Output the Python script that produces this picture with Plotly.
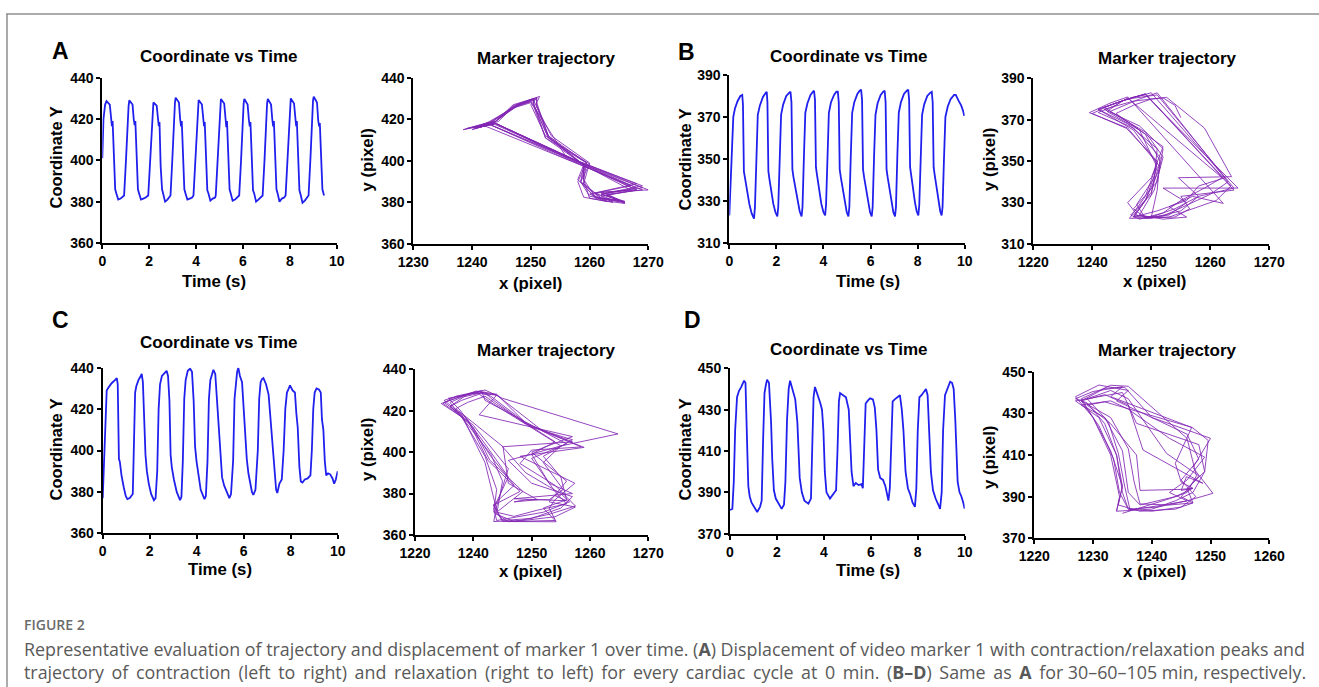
import plotly.graph_objects as go

W, H = 1319, 687

# ---------------- DATA ----------------
# Panel A: Coordinate Y vs time (0 min)
a_time = [0.00, 0.05, 0.12, 0.18, 0.32, 0.37, 0.41, 0.44, 0.49, 0.55, 0.60, 0.68, 0.78, 0.88,
          0.93, 1.01, 1.08, 1.12, 1.15, 1.29, 1.34, 1.38, 1.41, 1.46, 1.52, 1.57, 1.65, 1.75, 1.85,
          1.96, 2.04, 2.11, 2.15, 2.18, 2.32, 2.37, 2.41, 2.44, 2.49, 2.55, 2.60, 2.68, 2.78, 2.88,
          2.91, 2.99, 3.06, 3.10, 3.13, 3.27, 3.32, 3.36, 3.39, 3.44, 3.50, 3.55, 3.63, 3.73, 3.83,
          3.89, 3.97, 4.04, 4.08, 4.11, 4.25, 4.30, 4.34, 4.37, 4.42, 4.48, 4.53, 4.61, 4.71, 4.81,
          4.84, 4.92, 4.99, 5.03, 5.06, 5.20, 5.25, 5.29, 5.32, 5.37, 5.43, 5.48, 5.56, 5.66, 5.76,
          5.84, 5.92, 5.99, 6.03, 6.06, 6.20, 6.25, 6.29, 6.32, 6.37, 6.43, 6.48, 6.56, 6.66, 6.76,
          6.84, 6.92, 6.99, 7.03, 7.06, 7.20, 7.25, 7.29, 7.32, 7.37, 7.43, 7.48, 7.56, 7.66, 7.76,
          7.82, 7.90, 7.97, 8.01, 8.04, 8.18, 8.23, 8.27, 8.30, 8.35, 8.41, 8.46, 8.54, 8.64, 8.74,
          8.80, 8.88, 8.95, 8.99, 9.02, 9.16, 9.21, 9.25, 9.28, 9.33, 9.39, 9.46]
a_coord = [401, 420, 427, 428.7, 427, 420, 416.5, 419, 398, 386, 384, 381, 381.5, 382.5,
           383, 400, 420, 426, 429, 427, 420, 417, 419, 398, 386, 384, 381, 381.5, 382,
           383, 400, 419, 425.5, 428, 426.5, 419, 416.5, 418.5, 397, 386, 383.5, 380, 381, 382.5,
           383, 401, 421, 428, 430.3, 428, 420, 416.5, 419, 398, 386, 384, 381, 381.5, 382,
           383, 400, 420, 427, 429.2, 427, 420, 416.5, 418.5, 398, 385.5, 384, 380.5, 381.5, 382,
           383, 400, 421, 427.5, 429.7, 427.5, 420, 416, 419, 398, 386, 384, 380.5, 381, 382,
           383, 400, 421, 427.5, 429.7, 427, 420, 416.5, 418.5, 398, 385.5, 384, 380, 381, 382,
           383, 400, 421, 427.5, 429.7, 427, 420, 416.5, 419, 398, 386, 384, 380, 381.5, 382,
           383, 400, 421, 428, 430, 427.5, 420, 416.5, 419, 398, 385.5, 383.5, 379.5, 380.5, 382,
           383, 401, 422, 429, 430.8, 428, 419.5, 416.5, 418, 398, 386, 383]

# Panel A: marker trajectory (x, y in pixels)
a_traj_x = [1256, 1252,
            1250, 1247, 1244, 1241, 1244, 1257, 1268, 1262, 1265, 1261, 1259, 1259.5, 1253, 1251,
            1250.5, 1247.5, 1243.5, 1239, 1243, 1256, 1267, 1261, 1264, 1260, 1258.5, 1259, 1252.5, 1250.5,
            1250, 1246.5, 1243, 1238.5, 1242, 1255, 1269, 1263, 1266, 1262, 1259, 1260, 1253.5, 1251,
            1251, 1248, 1244, 1240, 1243.5, 1257, 1270, 1262, 1265, 1261, 1258, 1259, 1253, 1250.5,
            1250.5, 1247, 1244.5, 1241, 1244, 1258, 1268, 1260, 1263, 1259, 1258, 1259.5, 1252.5, 1250,
            1251, 1248, 1243, 1240, 1243, 1256, 1269, 1262, 1266, 1262, 1258.5, 1260, 1253, 1250.5,
            1250.5, 1247, 1244, 1241, 1244, 1257, 1267, 1261, 1264, 1260, 1259, 1259, 1253, 1251,
            1251, 1247.5, 1243.5, 1240.5, 1243, 1257, 1269, 1262, 1266, 1261, 1258.5, 1259.5, 1252.5, 1250.5,
            1250.5, 1247, 1244, 1241, 1244, 1256, 1268, 1263, 1266, 1262, 1259, 1259, 1253, 1251,
            1251.5, 1248, 1244, 1241, 1244, 1257, 1268, 1262]
a_traj_y = [402, 420,
            428.5, 426, 419, 416, 418, 401, 387, 384, 381, 382.5, 391, 399, 412, 426,
            429, 426, 419, 415.5, 417.5, 401, 388, 384.5, 381, 383, 390, 398, 411, 426,
            428, 425, 418.5, 415, 417, 402, 386, 384, 380, 382, 389, 399, 412, 426,
            430.5, 427, 419, 416, 418, 401, 386, 385, 381, 382.5, 391, 398, 411, 427,
            429.5, 426, 419, 416, 418, 400, 389, 384, 380.5, 382.5, 390, 399, 412, 427,
            430, 427, 419, 415, 417.5, 402, 388, 384, 380.5, 382, 390, 398.5, 411, 427,
            430, 426.5, 419, 416, 418, 401, 386, 384.5, 380, 382, 391, 398, 412, 427,
            430, 427, 419, 415.5, 417.5, 400.5, 387, 384, 380, 382, 390, 399, 411, 427.5,
            430, 427, 419, 416, 418, 401.5, 386, 383.5, 379.5, 381, 389, 398, 411.5, 428,
            431, 427.5, 419, 416, 418, 401, 386, 383]

# Panel B: Coordinate Y vs time (30 min)
b_time = [0.00, 0.04, 0.10, 0.17, 0.24, 0.35, 0.47, 0.55, 0.58, 0.62, 0.68, 0.76, 0.85, 0.95,
          1.05, 1.09, 1.15, 1.21, 1.30, 1.43, 1.55, 1.59, 1.62, 1.66, 1.71, 1.79, 1.87, 1.96,
          2.04, 2.08, 2.14, 2.20, 2.29, 2.42, 2.54, 2.60, 2.64, 2.68, 2.73, 2.82, 2.91, 2.99,
          3.07, 3.11, 3.17, 3.23, 3.32, 3.45, 3.55, 3.60, 3.64, 3.68, 3.73, 3.82, 3.91, 4.00,
          4.07, 4.11, 4.17, 4.23, 4.32, 4.45, 4.55, 4.61, 4.65, 4.69, 4.74, 4.82, 4.91, 4.99,
          5.06, 5.10, 5.16, 5.22, 5.31, 5.44, 5.54, 5.60, 5.64, 5.68, 5.73, 5.82, 5.90, 5.98,
          6.05, 6.09, 6.15, 6.21, 6.30, 6.43, 6.54, 6.60, 6.64, 6.68, 6.73, 6.81, 6.90, 6.97,
          7.04, 7.08, 7.14, 7.20, 7.29, 7.42, 7.54, 7.60, 7.64, 7.68, 7.73, 7.81, 7.89, 7.96,
          8.03, 8.07, 8.13, 8.19, 8.28, 8.41, 8.53, 8.60, 8.64, 8.68, 8.73, 8.81, 8.89, 8.96,
          9.02, 9.06, 9.12, 9.18, 9.28, 9.40, 9.55, 9.62, 9.75, 9.85, 9.93, 9.98]
b_coord = [323, 333, 355, 370, 374, 377.5, 380, 380.5, 376, 344, 340, 334.5, 328.5, 324,
           321.5, 327, 350, 371, 375.5, 379.5, 381.5, 382, 377, 344, 340, 334, 328.5, 324.5,
           322.5, 327, 351, 371, 376, 380, 381.5, 382, 377, 345, 341, 335, 329, 325,
           322.5, 327, 351, 372, 376.5, 380.5, 382, 382.5, 378, 346, 342, 335, 328.5, 324.5,
           323, 328, 352, 372, 377, 380.5, 382, 382, 377, 345, 341, 335, 329, 324.5,
           322.5, 327, 351, 372, 377, 381, 382.5, 383, 378, 345, 341, 335, 328.5, 324.5,
           322.5, 327, 351, 371, 376.5, 380.5, 382, 382.5, 377, 345, 341, 335, 329, 324.5,
           322.5, 327, 352, 372, 377, 381, 382.5, 383, 378, 346, 342, 335, 329, 325,
           323, 328, 352, 371, 376, 380, 381.5, 382, 377, 346, 342, 335.5, 329, 325,
           323, 327, 350, 370, 375, 378.5, 380.5, 380.5, 377.5, 375.5, 373, 370.5]

# Panel B: marker trajectory
b_traj_x = [1250, 1251, 1251.5, 1247, 1241, 1244, 1246,
            1262, 1259, 1255, 1252, 1248, 1246.5, 1250, 1251, 1245.8, 1240, 1243, 1247, 1249,
            1264.7, 1252, 1256, 1253, 1249, 1247, 1251, 1252, 1248, 1242, 1247, 1252.6,
            1259, 1263.6, 1254.6, 1258, 1255, 1250, 1246.3, 1249, 1251, 1246, 1239.5, 1243, 1246,
            1262.2, 1257, 1253, 1256, 1252, 1248, 1250.5, 1252, 1249, 1243, 1248, 1251,
            1263, 1260, 1257, 1252, 1247, 1249, 1251.5, 1247, 1241, 1245, 1249,
            1264, 1255, 1256.5, 1254, 1248, 1246, 1250, 1252, 1246.5, 1242, 1246, 1250,
            1262.5, 1258, 1256, 1251, 1247, 1249, 1251, 1248, 1242.5, 1245, 1249,
            1263.5, 1261, 1256, 1253, 1249, 1247.5, 1250.5, 1251, 1246, 1241, 1246, 1251,
            1262, 1264, 1258, 1254, 1250, 1247, 1250, 1251.5, 1249, 1244, 1247, 1250, 1252, 1254, 1255]
b_traj_y = [323, 336, 352, 366, 373.5, 377, 380.5,
            342, 337, 331, 325, 322, 324, 334, 350, 365.8, 373, 377, 381, 382,
            337, 337, 330, 324, 322.5, 327, 340, 356, 367, 375, 379, 380.8,
            366, 342.5, 342, 333, 326, 322.5, 322.4, 333, 349, 366, 373.4, 378, 381,
            329.6, 333, 328, 323, 322, 324, 336, 352, 364, 374, 380, 383,
            340, 334, 330, 323.5, 323, 331, 347, 365, 375, 379, 382.5,
            336, 333, 327, 323, 322.5, 330, 342, 357, 368, 376, 380, 383,
            342, 338, 331, 326, 323, 331, 347, 365, 374, 379, 382.5,
            338, 331, 326, 323, 322.5, 329, 342, 356, 368, 375, 380, 382,
            344, 337, 333, 327, 323, 324, 335, 350, 363, 373, 377, 380, 380.5, 377, 371]

# Panel C: Coordinate Y vs time (60 min)
c_time = [0.00, 0.05, 0.12, 0.17, 0.25, 0.38, 0.52, 0.60, 0.64, 0.67, 0.69, 0.73, 0.80, 0.90, 0.98, 1.05, 1.15,
          1.28, 1.33, 1.38, 1.43, 1.52, 1.62, 1.66, 1.71, 1.76, 1.82, 1.88, 1.96, 2.06, 2.18, 2.25,
          2.32, 2.38, 2.44, 2.52, 2.64, 2.72, 2.78, 2.84, 2.89, 2.94, 3.03, 3.15, 3.29, 3.35,
          3.41, 3.47, 3.53, 3.62, 3.72, 3.80, 3.87, 3.93, 3.99, 4.07, 4.17, 4.33, 4.39,
          4.46, 4.52, 4.58, 4.66, 4.71, 4.79, 4.86, 4.93, 5.00, 5.08, 5.17, 5.30, 5.39, 5.46,
          5.55, 5.61, 5.67, 5.72, 5.77, 5.84, 5.93, 6.00, 6.06, 6.13, 6.20, 6.27, 6.35, 6.41, 6.50,
          6.60, 6.66, 6.72, 6.78, 6.84, 6.95, 7.06, 7.12, 7.18, 7.25, 7.32, 7.38, 7.43, 7.52, 7.62,
          7.70, 7.77, 7.84, 7.92, 7.97, 8.08, 8.18, 8.24, 8.30, 8.37, 8.43, 8.50, 8.60, 8.72, 8.84,
          8.90, 8.96, 9.02, 9.10, 9.20, 9.28, 9.33, 9.39, 9.45, 9.51, 9.59, 9.68, 9.78, 9.85, 9.92, 10.00]
c_coord = [377, 392, 422, 429, 430.5, 432.5, 434, 435, 432, 415, 396, 394.5, 388, 382, 378, 376.5, 377,
           379, 402, 428, 431, 434, 436, 437, 433, 418, 398, 390, 384, 379, 376, 377,
           390, 420, 432, 436, 437.5, 438.5, 436, 424, 398, 392, 386, 380, 376, 377.5,
           395, 425, 434, 438.5, 439.5, 438, 424, 402, 395, 388, 381, 376.5, 378,
           395, 425, 434, 438, 439, 437, 425, 408, 396, 387, 383, 379, 377, 379,
           395, 425, 435, 438, 440, 436, 433, 420, 412, 396, 389, 384, 380, 378.5, 381,
           400, 425, 433, 434.5, 435, 432, 427, 418, 410, 399, 387, 381, 379.5, 384, 386,
           400, 420, 428, 430, 431.5, 429, 428, 418, 411, 392, 385, 384.5, 386, 386.5, 388,
           400, 420, 428, 430, 429.5, 428, 415, 410, 395, 388, 389, 388.5, 386.5, 384, 386, 390]

# Panel C: marker trajectory
c_traj_x = [1244, 1242, 1238, 1235,
            1238, 1241, 1243, 1250, 1257, 1252, 1255, 1256, 1252, 1254, 1246, 1243.5, 1244, 1242, 1238, 1234.5,
            1237, 1240.5, 1244, 1249, 1258.5, 1250, 1248, 1254, 1257.5, 1253, 1248, 1243.5, 1244, 1246, 1240, 1236,
            1239, 1242, 1245, 1264.8, 1255, 1246, 1250, 1257, 1255, 1250, 1245, 1243.5, 1248, 1242.5, 1239, 1235,
            1236, 1241, 1244, 1241, 1257, 1250, 1256, 1253, 1257.5, 1254, 1247, 1244, 1245, 1243, 1238, 1236,
            1238, 1242, 1243, 1248.8, 1257, 1245, 1249, 1255, 1256.5, 1252, 1244, 1243.5, 1246, 1242, 1237.7,
            1235.7, 1240, 1244, 1252, 1259, 1248, 1257.4, 1254, 1253, 1254.2, 1245, 1243.4, 1247, 1243, 1239, 1234.8,
            1237, 1241.4, 1242, 1256, 1250, 1254, 1256, 1251, 1247, 1244, 1248.5, 1242.8, 1240, 1236,
            1238, 1241, 1243, 1255, 1252, 1255.4, 1253, 1249, 1247, 1251, 1246, 1245.1, 1240, 1237,
            1239, 1242, 1244, 1254, 1250, 1253, 1257, 1253, 1249, 1247, 1252, 1256, 1254]
c_traj_y = [372, 395, 418, 424,
            427, 429, 427, 412, 406, 398, 388, 377, 373, 367, 366.5, 371, 382, 398, 417, 423.5,
            426, 429.5, 428, 414, 402.5, 401, 394.5, 384, 374, 370, 367, 366.5, 374, 392, 413, 422,
            428, 430, 426, 408.8, 403, 396, 385, 378.5, 373, 368, 367, 374.5, 381, 396, 416, 425,
            426, 429, 427.5, 418, 407.5, 400, 386, 376, 373.5, 368.8, 366.5, 370, 386, 399, 417, 424,
            426.5, 429, 426, 414, 405, 402.6, 390, 380, 376, 371, 367, 373, 388, 404, 420.4,
            426, 428.5, 427.6, 410, 402.3, 398, 385, 377, 373, 366.4, 366.5, 374.5, 384, 398, 415, 423.6,
            427, 429.7, 425, 404, 397, 381, 375, 372, 369, 371, 381, 396.2, 412, 422,
            425, 428, 424, 403, 395, 382, 377, 377, 376, 377, 385, 402.6, 414, 421,
            424, 427, 423, 405, 399, 385, 380, 379, 378, 377.5, 377, 376.5, 379]

# Panel D: Coordinate Y vs time (105 min)
d_time = [0.00, 0.10, 0.16, 0.22, 0.30, 0.38, 0.48, 0.60, 0.66, 0.70, 0.74, 0.78, 0.84, 0.92, 1.02, 1.16, 1.28,
          1.35, 1.41, 1.47, 1.53, 1.58, 1.66, 1.71, 1.75, 1.80, 1.87, 1.95, 2.05, 2.20, 2.30,
          2.36, 2.43, 2.50, 2.56, 2.66, 2.78, 2.87, 2.92, 2.97, 3.06, 3.17, 3.34, 3.45,
          3.50, 3.56, 3.62, 3.72, 3.84, 3.92, 3.98, 4.04, 4.11, 4.26, 4.40, 4.52,
          4.58, 4.64, 4.69, 4.80, 4.94, 5.06, 5.12, 5.18, 5.26, 5.36, 5.48, 5.60,
          5.66, 5.72, 5.78, 5.88, 5.97, 6.09, 6.17, 6.24, 6.31, 6.40, 6.52, 6.62, 6.75,
          6.81, 6.87, 6.93, 7.02, 7.12, 7.24, 7.32, 7.39, 7.48, 7.58, 7.68, 7.78, 7.88,
          7.94, 8.00, 8.07, 8.16, 8.26, 8.35, 8.42, 8.49, 8.56, 8.65, 8.76, 8.88, 8.95,
          9.02, 9.08, 9.16, 9.26, 9.38, 9.46, 9.53, 9.60, 9.64, 9.70, 9.78, 9.86, 9.94, 10.00]
d_coord = [381.5, 382, 395, 420, 436, 439, 441, 444, 443, 430, 409, 393, 388, 385, 383, 380.5, 383,
           386, 415, 438, 442, 444.5, 443, 433, 424, 406, 391, 387, 385, 382, 384,
           395, 425, 440, 444, 440, 435, 424, 408, 397, 390, 386, 384.5, 387,
           410, 436, 441, 438, 433.5, 430, 420, 400, 390, 387, 389, 391,
           410, 434, 438, 437, 436, 430, 418, 400, 393, 394.5, 393.5, 394,
           392, 415, 433, 434.5, 435.5, 435, 431, 420, 401, 397, 396, 393, 386,
           392, 420, 434, 435, 436, 437, 430, 420, 400, 392, 389, 385, 383,
           392, 420, 436, 437, 438.5, 440, 437, 420, 400, 391, 387, 384, 382,
           390, 420, 437, 440, 443.5, 443, 440, 425, 410, 395, 390, 388, 385, 382]

# Panel D: marker trajectory
d_traj_x = [1234, 1235, 1234, 1232, 1229,
            1227, 1230, 1235, 1233, 1247, 1249.6, 1249, 1246, 1247, 1244, 1238, 1234.3,
            1235, 1233, 1230, 1227, 1231, 1236, 1234, 1246, 1248, 1245, 1247.5, 1245, 1240, 1236,
            1234.5, 1233.5, 1231, 1228, 1232, 1235.4, 1240, 1250, 1247, 1250.4, 1246, 1242, 1236.3,
            1235.4, 1234.3, 1232.6, 1229, 1233, 1236, 1242.5, 1248, 1245, 1247, 1243, 1238,
            1237, 1236, 1233, 1228, 1232, 1236, 1238.5, 1248.7, 1245.9, 1245, 1247, 1245,
            1238, 1237.4, 1233, 1229, 1232, 1235, 1246.8, 1244, 1245, 1247, 1244, 1238,
            1236, 1235, 1232, 1228, 1233, 1236, 1243, 1249, 1246, 1243, 1246, 1241, 1236,
            1235, 1234, 1231, 1227, 1232, 1235, 1237.4, 1248, 1249, 1247, 1244, 1240, 1234,
            1234.5, 1233, 1230, 1228, 1233, 1236, 1240, 1246, 1247.6, 1246, 1243, 1235]
d_traj_y = [383, 395, 410, 425, 435,
            437, 440.5, 442.8, 438, 423, 417, 402, 394, 387, 384, 383, 386,
            395, 412, 428, 438, 443.6, 441, 436, 420, 408, 398, 390, 385, 383, 384,
            392, 408, 424, 436, 442, 442.5, 428, 418, 404, 391.6, 388, 386, 383.6,
            394.8, 410.8, 426, 437, 441, 437, 410.8, 400, 390, 387, 386, 386.5,
            397, 413, 428, 436, 439, 434, 412.4, 396.4, 399.6, 393, 394, 393.5,
            393, 410, 425, 434, 435.5, 433, 423.3, 406, 397, 394, 390, 386,
            392, 412, 428, 434, 436, 432, 418, 409, 398, 392, 388, 385, 384,
            392, 410, 428, 436, 438.5, 440, 425.2, 415, 402, 392, 388, 384, 383,
            390, 410, 428, 437, 443.5, 443, 433, 418, 400, 392, 389, 382]

# Axis settings (tick values, tick labels)
ts_x_ticks = [0, 2, 4, 6, 8, 10]
a_y_ticks = [360, 380, 400, 420, 440]
b_y_ticks = [310, 330, 350, 370, 390]
c_y_ticks = [360, 380, 400, 420, 440]
d_y_ticks = [370, 390, 410, 430, 450]
a_traj_xticks = [1230, 1240, 1250, 1260, 1270]
a_traj_xlabels = ["1230", "1240", "1250", "1260", "1270"]
bc_traj_xticks = [1230, 1240, 1250, 1260, 1270]
bc_traj_xlabels = ["1220", "1240", "1250", "1260", "1270"]
d_traj_xticks = [1220, 1230, 1240, 1250, 1260]
d_traj_xlabels = ["1220", "1230", "1240", "1250", "1260"]

panel_letters = ["A", "B", "C", "D"]

caption_label = "FIGURE 2"
caption_line1 = ("Representative evaluation of trajectory and displacement of marker 1 over time. "
                 "(<b>A</b>) Displacement of video marker 1 with contraction/relaxation peaks and")
caption_line2 = ("trajectory of contraction (left to right) and relaxation (right to left) for every "
                 "cardiac cycle at 0 min. (<b>B–D</b>) Same as <b>A</b> for 30–60–105 min, respectively.")

# ---------------- FIGURE ----------------
def px(x):
    return x / W

def py(y):
    return 1 - y / H

BLUE = "#2020ee"
PURPLE = "rgba(130,38,180,0.85)"
TICKFONT = dict(family="Liberation Sans, Arial, sans-serif", size=14, color="black", weight="bold")

# (x0, x1, ytop, ybottom) in pixels for each of the 8 plots
boxes = [
    (102.3, 336.7, 77.7, 243.0),   # A ts
    (413.3, 648.3, 77.7, 244.0),   # A traj
    (729.3, 964.7, 75.0, 242.7),   # B ts
    (1033.3, 1269.3, 78.3, 244.0), # B traj
    (102.7, 337.7, 367.7, 533.3),  # C ts
    (415.0, 648.3, 369.3, 535.0),  # C traj
    (730.0, 964.7, 368.3, 533.7),  # D ts
    (1034.3, 1269.3, 371.7, 538.3) # D traj
]

series = [
    (a_time, a_coord, BLUE, 1.8),
    (a_traj_x, a_traj_y, PURPLE, 1.0),
    (b_time, b_coord, BLUE, 1.8),
    (b_traj_x, b_traj_y, PURPLE, 1.0),
    (c_time, c_coord, BLUE, 1.8),
    (c_traj_x, c_traj_y, PURPLE, 1.0),
    (d_time, d_coord, BLUE, 1.8),
    (d_traj_x, d_traj_y, PURPLE, 1.0),
]

xaxes = [
    ([0, 10], ts_x_ticks, [str(v) for v in ts_x_ticks]),
    ([1230, 1270], a_traj_xticks, a_traj_xlabels),
    ([0, 10], ts_x_ticks, [str(v) for v in ts_x_ticks]),
    ([1230, 1270], bc_traj_xticks, bc_traj_xlabels),
    ([0, 10], ts_x_ticks, [str(v) for v in ts_x_ticks]),
    ([1230, 1270], bc_traj_xticks, bc_traj_xlabels),
    ([0, 10], ts_x_ticks, [str(v) for v in ts_x_ticks]),
    ([1220, 1260], d_traj_xticks, d_traj_xlabels),
]
yaxes = [a_y_ticks, a_y_ticks, b_y_ticks, b_y_ticks, c_y_ticks, c_y_ticks, d_y_ticks, d_y_ticks]

fig = go.Figure()
layout = dict(
    width=W, height=H, margin=dict(l=0, r=0, t=0, b=0),
    paper_bgcolor="white", plot_bgcolor="white", showlegend=False,
)

for i in range(8):
    n = "" if i == 0 else str(i + 1)
    xs, ys, col, lw = series[i]
    fig.add_trace(go.Scatter(x=xs, y=ys, mode="lines", line=dict(color=col, width=lw),
                             xaxis="x" + n, yaxis="y" + n, hoverinfo="skip"))
    x0, x1, yt, yb = boxes[i]
    xr, xtv, xtt = xaxes[i]
    yt_vals = yaxes[i]
    common = dict(showline=True, linecolor="black", linewidth=2, ticks="outside", ticklen=4,
                  tickwidth=2, tickcolor="black", showgrid=False, zeroline=False,
                  tickfont=TICKFONT, fixedrange=True, automargin=False)
    layout["xaxis" + n] = dict(domain=[px(x0), px(x1)], range=xr, tickmode="array",
                               tickvals=xtv, ticktext=xtt, anchor="y" + n, **common)
    layout["yaxis" + n] = dict(domain=[py(yb), py(yt)], range=[yt_vals[0], yt_vals[-1]],
                               tickmode="array", tickvals=yt_vals,
                               ticktext=[str(v) for v in yt_vals], anchor="x" + n, **common)

fig.update_layout(**layout)

BOLD = "Liberation Sans, Arial, sans-serif"
ann = []

def text(x, y, s, size, angle=0, family=BOLD, weight="bold", color="black", xanchor="center",
         align="center"):
    ann.append(dict(x=px(x), y=py(y), xref="paper", yref="paper", text=s, showarrow=False,
                    textangle=angle, xanchor=xanchor, yanchor="middle", align=align,
                    font=dict(family=family, size=size, color=color, weight=weight)))

# panel letters
for (lx, ly), letter in zip([(60, 51), (686, 52), (60, 320), (692, 320)], panel_letters):
    text(lx, ly, letter, 23)

# plot titles
for (tx, ty) in [(219, 57), (848, 57), (219, 342), (848, 349)]:
    text(tx, ty, "Coordinate vs Time", 17)
for (tx, ty) in [(546, 58), (1167, 58), (546, 350), (1167, 350)]:
    text(tx, ty, "Marker trajectory", 17)

# axis titles
for (tx, ty) in [(55.5, 158), (684.5, 160), (55.5, 450), (684.5, 450)]:
    text(tx, ty, "Coordinate Y", 16.5, angle=-90)
for (tx, ty) in [(366.5, 160), (989, 160), (367, 449), (989, 458)]:
    text(tx, ty, "y (pixel)", 16.8, angle=-90)
for (tx, ty) in [(213.5, 281), (868, 281), (220, 569), (868, 570)]:
    text(tx, ty, "Time (s)", 16.8)
for (tx, ty) in [(530.5, 284), (1154, 281), (530.5, 571), (1154, 571)]:
    text(tx, ty, "x (pixel)", 16.8)

# caption (second line widened with narrow spaces to mimic the justified text)
CAP = "Open Sans, Noto Sans, sans-serif"
text(22, 624, caption_label, 14, family=CAP, weight=600, color="#6b6b6b", xanchor="left")
words2 = caption_line2.split(" ")
line2_justified = " \u2006".join(words2[:-3]) + " " + " ".join(words2[-3:])
text(22, 660, caption_line1 + "<br>" + line2_justified, 17.85, family=CAP, weight="normal",
     color="#595959", xanchor="left", align="left")

fig.update_layout(annotations=ann)

# frame lines
fig.update_layout(shapes=[
    dict(type="line", xref="paper", yref="paper", x0=px(6), x1=1, y0=py(14), y1=py(14),
         line=dict(color="#8f8f8f", width=1.5)),
    dict(type="line", xref="paper", yref="paper", x0=px(7), x1=px(7), y0=py(14), y1=0,
         line=dict(color="#8f8f8f", width=1.5)),
])

fig.write_html("out.html", config={"displayModeBar": False},
               post_script="document.body.style.margin='0';document.body.style.overflow='hidden';")
